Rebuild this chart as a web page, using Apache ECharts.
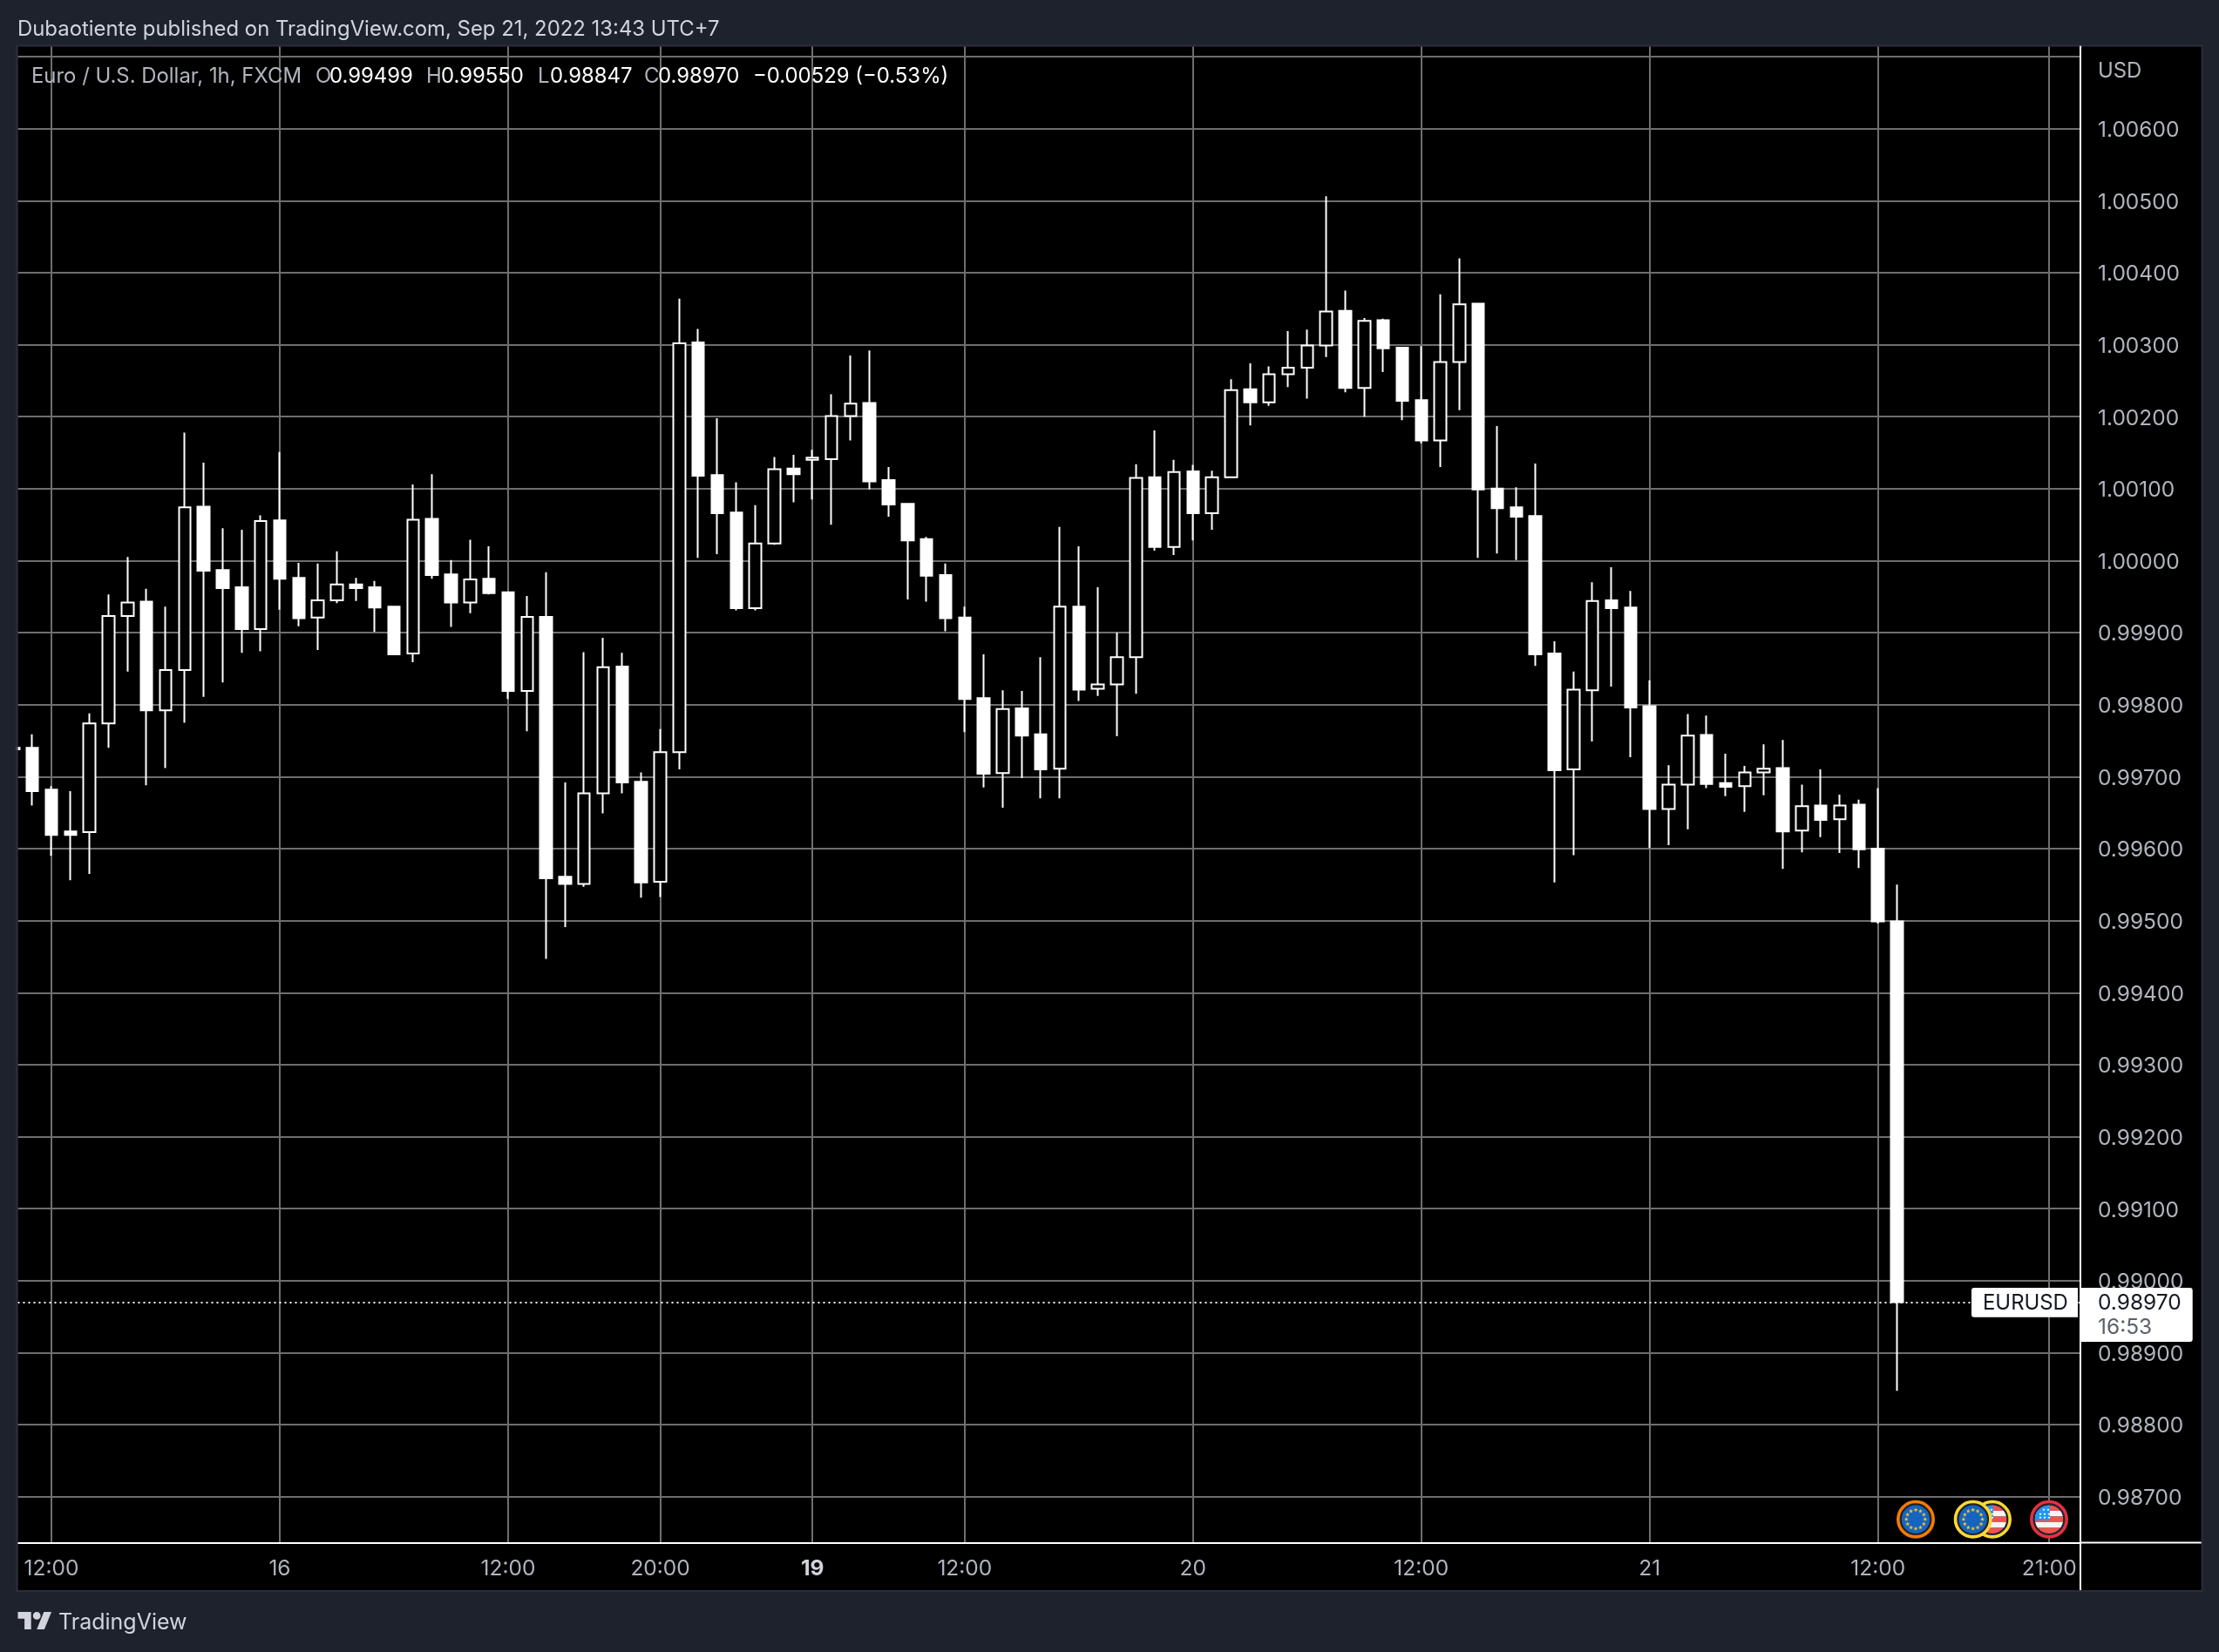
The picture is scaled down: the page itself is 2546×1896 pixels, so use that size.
<!DOCTYPE html>
<html><head><meta charset="utf-8">
<style>html,body{margin:0;padding:0;background:#1e222d}#c{width:2546px;height:1896px}</style>
<script src="https://cdn.jsdelivr.net/npm/echarts@6/dist/echarts.min.js"></script>
</head><body><div id="c"></div>
<script>
// Bar offsets in hours of trading time, counted from the first labelled 12:00 bar
const firstBar = -2;
// Quotes in 1e-5 USD
const opens = [99740,99740,99682,99624,99623,99774,99923,99943,99792,99848,100075,99987,99963,99905,100056,99976,99921,99945,99967,99963,99936,99871,100058,99981,99942,99975,99956,99819,99922,99561,99551,99677,99853,99693,99554,99734,100303,100119,100067,99934,100024,100128,100140,100141,100201,100219,100112,100079,100030,99980,99921,99809,99705,99795,99759,99711,99936,99822,99828,99866,100116,100019,100124,100066,100116,100238,100220,100259,100268,100299,100347,100240,100334,100296,100223,100167,100276,100357,100100,100074,100062,99871,99710,99820,99945,99935,99798,99655,99689,99758,99691,99687,99706,99712,99625,99660,99641,99661,99600,99499];
const closes = [99738,99680,99619,99619,99774,99923,99942,99792,99848,100074,99986,99962,99905,100055,99975,99920,99945,99967,99962,99935,99870,100057,99980,99942,99974,99955,99819,99922,99559,99551,99677,99852,99692,99553,99734,100302,100118,100066,99934,100024,100127,100120,100143,100201,100218,100110,100078,100028,99979,99920,99808,99704,99794,99757,99710,99936,99821,99828,99866,100115,100019,100123,100066,100116,100237,100220,100259,100268,100299,100346,100240,100333,100295,100222,100167,100276,100356,100099,100073,100061,99870,99709,99821,99944,99934,99796,99655,99689,99757,99690,99686,99706,99711,99624,99659,99640,99660,99599,99499,98970];
const lows = [99730,99660,99590,99556,99565,99740,99846,99688,99712,99775,99811,99831,99872,99874,99932,99909,99876,99941,99944,99901,99869,99859,99975,99908,99927,99953,99808,99763,99447,99491,99547,99649,99677,99532,99533,99710,100004,100009,99931,99931,100022,100081,100085,100050,100167,100099,100061,99946,99943,99902,99762,99685,99657,99698,99670,99670,99805,99812,99756,99815,100014,100008,100028,100043,100115,100188,100215,100241,100225,100283,100234,100200,100262,100195,100163,100130,100209,100004,100010,100001,99854,99553,99591,99749,99825,99727,99601,99605,99627,99684,99673,99651,99674,99572,99595,99616,99594,99573,99496,98847];
const highs = [99750,99759,99687,99680,99788,99953,100005,99961,99936,100178,100136,100045,100043,100063,100151,99997,99996,100013,99976,99972,99936,100106,100120,100001,100029,100020,99957,99951,99984,99692,99873,99893,99872,99706,99766,100364,100322,100198,100109,100077,100144,100147,100154,100231,100285,100292,100130,100080,100033,99996,99936,99870,99820,99819,99866,100047,100020,99963,99900,100134,100181,100140,100133,100125,100252,100274,100270,100319,100321,100506,100375,100337,100336,100297,100298,100370,100420,100357,100187,100102,100135,99888,99846,99970,99991,99958,99834,99716,99787,99785,99732,99715,99745,99751,99689,99710,99675,99668,99684,99550];
const xTickHours = [0,12,24,32,40,48,60,72,84,96,105];
const xTickLabels = ['12:00','16','12:00','20:00','19','12:00','20','12:00','21','12:00','21:00'];
const priceTicks = [0.987,0.988,0.989,0.990,0.991,0.992,0.993,0.994,0.995,0.996,0.997,0.998,0.999,1.000,1.001,1.002,1.003,1.004,1.005,1.006];
const gridOnlyTicks = [1.007];
const lastPrice = 0.9897;

const FONT = 'Inter, "Noto Sans", sans-serif';
const PANEL = '#1e222d', BORDER = '#2a2e39', GREY = '#b2b5be', SOFT = '#d1d4dc';
const L = 20.5, T = 53.5, R = 2387, B = 1770.5;
const barStep = 21.83, zeroX = 59;
const FS = 23.9, AXFS = 24.5;

const candles = opens.map((o, i) => [firstBar + i, o / 1e5, closes[i] / 1e5, lows[i] / 1e5, highs[i] / 1e5]);

function txt(x, y, text, fill, size) {
  return { type: 'text', z: 100, style: { x, y: y + 1.5, text, fill, font: size + 'px ' + FONT, align: 'left', verticalAlign: 'middle' } };
}
function rect(x, y, w, h, fill, z, r) {
  return { type: 'rect', z, shape: { x, y, width: w, height: h, r: r || 0 }, style: { fill } };
}
function discPoly(cx, cy, r, xMax, y0, y1) {
  const pts = [], right = [];
  const n = 14;
  for (let i = 0; i <= n; i++) {
    const y = y0 + (y1 - y0) * i / n;
    const d = Math.sqrt(Math.max(0, r * r - (y - cy) * (y - cy)));
    pts.push([cx - d, y]);
    right.push([Math.min(cx + d, xMax), y]);
  }
  return pts.concat(right.reverse());
}
function poly(points, fill) { return { type: 'polygon', z: 100, shape: { points }, style: { fill } }; }
function star(cx, cy, r, fill) {
  const p = [];
  for (let i = 0; i < 10; i++) {
    const a = -Math.PI / 2 + i * Math.PI / 5, q = i % 2 ? r * 0.42 : r;
    p.push([cx + q * Math.cos(a), cy + q * Math.sin(a)]);
  }
  return poly(p, fill);
}
function ring(cx, cy, color) {
  return { type: 'circle', z: 100, shape: { cx, cy, r: 20.2 }, style: { fill: PANEL, stroke: color, lineWidth: 3.6 } };
}
function euFlag(cx, cy, color) {
  const out = [ring(cx, cy, color), { type: 'circle', z: 100, shape: { cx, cy, r: 16.2 }, style: { fill: '#1565c0' } }];
  for (let i = 0; i < 12; i++) {
    const a = i * Math.PI / 6;
    out.push(star(cx + 10.8 * Math.cos(a), cy + 10.8 * Math.sin(a), 2.6, '#fbc02d'));
  }
  return out;
}
function usFlag(cx, cy, color) {
  const r = 16.2, out = [ring(cx, cy, color)];
  const h = 2 * r / 5;
  ['#ef5350', '#f5f5f5', '#ef5350', '#f5f5f5', '#ef5350'].forEach((c, i) => {
    out.push(poly(discPoly(cx, cy, r, cx + r, cy - r + i * h, cy - r + (i + 1) * h), c));
  });
  out.push(poly(discPoly(cx, cy, r, cx + 1, cy - r, cy + 1), '#2196f3'));
  [[-10, -6], [-5, -6], [0, -6], [-10, -2], [-5, -2], [0, -2], [-6, -11], [-1, -11]].forEach(d => out.push(star(cx + d[0], cy + d[1], 1.7, '#fff')));
  return out;
}
function logoPoly(pts) {
  return poly(pts.map(p => [20.5 + p[0] * 1.085, 1850 + (p[1] - 4) * 1.11]), SOFT);
}

const overlays = [
  rect(18.5, 51.5, 2509.2, 1775.5, BORDER, -3),
  rect(L, T, 2505.2, 1771.5, '#000', -2),
  // left margin: hides the part of the first, partly scrolled-off bar
  rect(0, 51.5, L - 2, 1775.5, PANEL, 90),
  rect(L - 2, 51.5, 2, 1775.5, BORDER, 90),
  // extensions of the axis lines through the scale panels
  rect(R - 1, 1770, 2, 55, '#fff', 60),
  rect(R, 1769.5, 2525.7 - R, 2, '#fff', 60),
  txt(20, 32, 'Dubaotiente published on TradingView.com, Sep 21, 2022 13:43 UTC+7', SOFT, FS),
  txt(36, 86, 'Euro / U.S. Dollar, 1h, FXCM', GREY, FS),
  txt(362, 86, 'O', GREY, FS), txt(378, 86, '0.99499', '#fff', FS),
  txt(489, 86, 'H', GREY, FS), txt(506, 86, '0.99550', '#fff', FS),
  txt(617, 86, 'L', GREY, FS), txt(631, 86, '0.98847', '#fff', FS),
  txt(739, 86, 'C', GREY, FS), txt(755, 86, '0.98970', '#fff', FS),
  txt(864, 86, '\u22120.00529 (\u22120.53%)', '#fff', FS),
  txt(2407, 80, 'USD', GREY, FS),
  rect(2262, 1478, 122, 33.7, '#fff', 100, [3, 0, 0, 3]),
  txt(2275, 1494, 'EURUSD', '#131722', FS),
  rect(2388, 1478, 127.7, 62, '#fff', 100, [0, 3, 3, 0]),
  txt(2407, 1494, '0.98970', '#131722', AXFS),
  txt(2407, 1522, '16:53', '#5d606b', AXFS),
  logoPoly([[14, 22], [7, 22], [7, 11], [0, 11], [0, 4], [14, 4]]),
  logoPoly([[28, 22], [20, 22], [27.5, 4], [35.5, 4]]),
  { type: 'circle', z: 100, shape: { cx: 20.5 + 20 * 1.085, cy: 1850 + 4 * 1.11, r: 4.4 }, style: { fill: SOFT } },
  txt(67, 1861, 'TradingView', SOFT, 25)
].concat(
  euFlag(2198, 1743.7, '#f57c00'),
  usFlag(2286, 1743.7, '#fdd835'),
  euFlag(2263.7, 1743.7, '#fdd835'),
  usFlag(2351, 1743.7, '#e53040')
);

const chart = echarts.init(document.getElementById('c'), null, { renderer: 'canvas', width: 2546, height: 1896 });
chart.setOption({
  animation: false,
  backgroundColor: PANEL,
  grid: { left: L, top: T, width: R - L, height: B - T, containLabel: false },
  xAxis: {
    type: 'value',
    min: (L - zeroX) / barStep,
    max: (R - zeroX) / barStep,
    axisLine: { show: true, onZero: false, lineStyle: { color: '#fff', width: 2 } },
    axisTick: { show: false, customValues: xTickHours },
    splitLine: { show: true, showMinLine: true, showMaxLine: true, lineStyle: { color: '#6e6e6e', width: 2 } },
    axisLabel: {
      customValues: xTickHours, margin: 18, color: GREY, fontSize: AXFS, fontFamily: FONT,
      showMinLabel: true, showMaxLabel: true, hideOverlap: false,
      formatter: v => {
        const s = xTickLabels[xTickHours.indexOf(v)];
        return s === '19' ? '{b|19}' : s;
      },
      rich: { b: { fontWeight: 'bold', fontSize: AXFS, fontFamily: FONT, color: SOFT } }
    }
  },
  yAxis: {
    type: 'value', position: 'right',
    min: 0.987 - (B - 1717.7) / 82631,
    max: 1.006 + (147.7 - T) / 82631,
    axisLine: { show: true, onZero: false, lineStyle: { color: '#fff', width: 2 } },
    axisTick: { show: false, customValues: priceTicks.concat(gridOnlyTicks) },
    splitLine: { show: true, showMinLine: true, showMaxLine: true, lineStyle: { color: '#6e6e6e', width: 2 } },
    axisLabel: {
      customValues: priceTicks, margin: 20, color: GREY, fontSize: AXFS, fontFamily: FONT,
      formatter: v => '{p|' + v.toFixed(5) + '}',
      rich: { p: { padding: [4, 0, 0, 0], fontSize: AXFS, fontFamily: FONT, color: GREY } }
    }
  },
  series: [{
    type: 'candlestick',
    data: candles,
    barWidth: 14,
    clip: true,
    itemStyle: { color: '#000', color0: '#fff', borderColor: '#fff', borderColor0: '#fff', borderColorDoji: '#fff', borderWidth: 2 },
    markLine: {
      silent: true, symbol: 'none', animation: false, label: { show: false }, precision: 5,
      lineStyle: { color: '#fff', type: [2, 4], width: 2, opacity: 1 },
      data: [{ yAxis: lastPrice }]
    }
  }],
  graphic: { elements: overlays }
});
</script></body></html>
